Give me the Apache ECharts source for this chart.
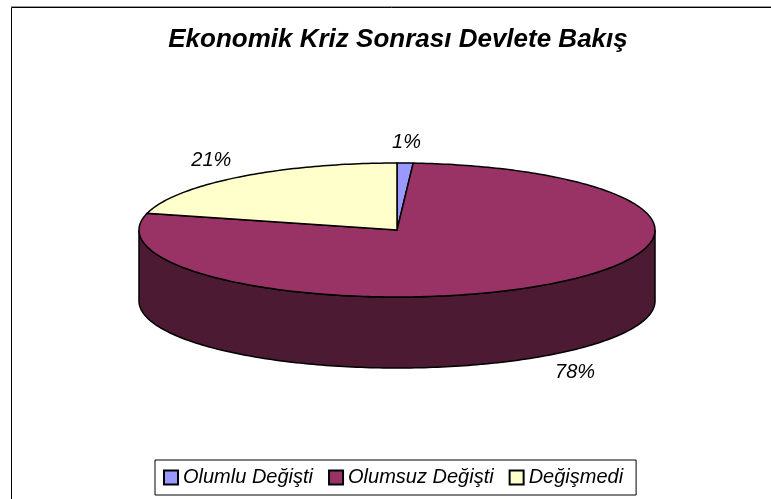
<!DOCTYPE html>
<html>
<head>
<meta charset="utf-8">
<script src="https://cdn.jsdelivr.net/npm/echarts@6/dist/echarts.min.js"></script>
<style>
  html, body { margin: 0; padding: 0; background: #fff; }
  #chart { width: 771px; height: 499px; }
</style>
</head>
<body>
<div id="chart"></div>
<script>
var categories = ['Olumlu Değişti', 'Olumsuz Değişti', 'Değişmedi'];
var values = [1, 78, 21];
var topColors = ['#9999FF', '#993366', '#FFFFCC'];
var sideColors = ['#4D4D80', '#4C1A33', '#808066'];

(function () {
    var dom = document.getElementById('chart');
    var myChart = echarts.init(dom);

    // pie geometry (top ellipse)
    var cx = 397, cy = 230, rx = 258, ry = 67, depth = 71;
    var total = values.reduce(function (a, b) { return a + b; }, 0);
    var starts = [];
    var acc = 0;
    values.forEach(function (v) { starts.push(acc / total * 360); acc += v; });

    function pt(deg, dy) {
        var r = deg * Math.PI / 180;
        return [cx + rx * Math.sin(r), cy - ry * Math.cos(r) + (dy || 0)];
    }

    function makeRender(i) {
        return function (params, api) {
            var a0 = starts[i];
            var a1 = a0 + values[i] / total * 360;
            var children = [];
            // visible side wall: front half between 90 and 270 degrees
            var s = Math.max(a0, 90), e = Math.min(a1, 270);
            if (e > s) {
                var side = [];
                var d;
                for (d = s; d < e; d += 1) side.push(pt(d));
                side.push(pt(e));
                for (d = e; d > s; d -= 1) side.push(pt(d, depth));
                side.push(pt(s, depth));
                children.push({
                    type: 'polygon',
                    shape: { points: side },
                    style: { fill: sideColors[i], stroke: '#000', lineWidth: 1.5 }
                });
            }
            var top = [[cx, cy]];
            for (var t = a0; t < a1; t += 1) top.push(pt(t));
            top.push(pt(a1));
            children.push({
                type: 'polygon',
                shape: { points: top },
                style: { fill: topColors[i], stroke: '#000', lineWidth: 1.5 }
            });
            // label
            var mid = (a0 + a1) / 2 * Math.PI / 180;
            var lx = cx + (rx + 45) * Math.sin(mid);
            var ly = cy - (ry + 21) * Math.cos(mid) + (Math.cos(mid) < 0 ? depth : 0);
            children.push({
                type: 'text',
                style: {
                    text: Math.round(values[i] / total * 100) + '%',
                    x: lx, y: ly,
                    align: 'center', verticalAlign: 'middle',
                    fill: '#000',
                    font: 'italic 20px "Liberation Sans", Arial, sans-serif'
                }
            });
            return { type: 'group', children: children };
        };
    }

    var series = categories.map(function (name, i) {
        return {
            name: name,
            type: 'custom',
            coordinateSystem: 'none',
            data: [[values[i]]],
            itemStyle: { color: topColors[i], borderColor: '#000', borderWidth: 1 },
            renderItem: makeRender(i),
            silent: true
        };
    });

    var option = {
        animation: false,
        backgroundColor: '#fff',
        title: {
            text: 'Ekonomik Kriz Sonrası Devlete Bakış',
            left: 393,
            textAlign: 'center',
            top: 22,
            textStyle: {
                color: '#000',
                fontSize: 26,
                fontStyle: 'italic',
                fontWeight: 'bold',
                fontFamily: '"Liberation Sans", Arial, sans-serif'
            }
        },
        graphic: [
            { type: 'line', shape: { x1: 11, y1: 6.5, x2: 771, y2: 6.5 }, style: { stroke: '#999', lineWidth: 1 } },
            { type: 'rect', shape: { x: 11.5, y: 7.5, width: 800, height: 600 }, style: { fill: null, stroke: '#000', lineWidth: 1 } }
        ],
        legend: {
            data: categories,
            left: 155,
            top: 460,
            orient: 'horizontal',
            icon: 'rect',
            itemWidth: 14,
            itemHeight: 14,
            itemGap: 15,
            padding: [7, 13, 7, 8],
            borderColor: '#000',
            borderWidth: 1,
            backgroundColor: '#fff',
            selectedMode: false,
            textStyle: {
                color: '#000',
                fontSize: 20,
                lineHeight: 21,
                fontStyle: 'italic',
                fontFamily: '"Liberation Sans", Arial, sans-serif'
            }
        },
        series: series
    };
    myChart.setOption(option);
})();
</script>
</body>
</html>
